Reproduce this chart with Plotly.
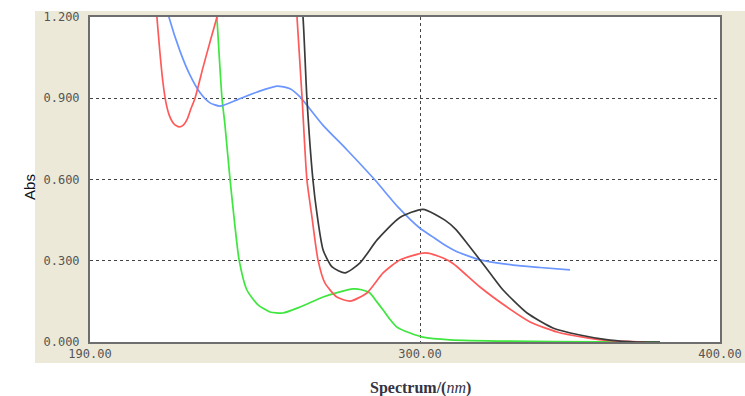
import plotly.graph_objects as go

# Wavelength (nm) / absorbance readings per curve
red_x = [210, 212.3, 213.3, 214.3, 215.3, 216.5, 218, 219.7, 221.2, 222.5, 223.6, 225, 227.7, 230,
         232.3, 234, 238, 254, 257.5,
         259, 260.7, 262.3, 264, 266, 268.3, 272.3, 276.7, 282.3, 287.7, 293.3, 301.7, 307.7, 311, 315.7,
         320, 329, 336.7, 345.7, 354.3, 363.3, 375]
red_y = [1.5, 1.2, 1.07, 0.96, 0.885, 0.835, 0.805, 0.794, 0.802, 0.825, 0.86, 0.9, 1.015, 1.108,
         1.2, 1.3, 1.5, 1.5, 1.45,
         1.2, 0.9, 0.6, 0.46, 0.303, 0.218, 0.166, 0.151, 0.181, 0.255, 0.303, 0.329, 0.31, 0.29, 0.245,
         0.203, 0.129, 0.074, 0.037, 0.018, 0.005, 0.0]

black_x = [258.5, 261, 262.3, 264.3, 265.7, 267.7, 270.7, 275, 280, 285.7, 293.3, 301, 308.3, 312, 316,
           320, 324, 327.7, 335.7, 344.3, 353.3, 363.3, 372.3, 380]
black_y = [1.5, 1.2, 0.9, 0.6, 0.47, 0.34, 0.277, 0.255, 0.292, 0.377, 0.46, 0.49, 0.45, 0.415, 0.36,
           0.303, 0.245, 0.192, 0.107, 0.052, 0.026, 0.007, 0.0, 0.0]

blue_x = [213, 216.3, 220, 223.3, 226.7, 230, 233.3, 239, 245.7, 252.3, 256.7, 260, 267.7, 275.7, 285,
          292.7, 300, 304, 308, 312, 316, 320, 331, 340, 350]
blue_y = [1.35, 1.2, 1.074, 0.986, 0.92, 0.883, 0.871, 0.894, 0.923, 0.945, 0.935, 0.905, 0.8, 0.709, 0.598,
          0.498, 0.42, 0.39, 0.36, 0.335, 0.318, 0.303, 0.284, 0.275, 0.266]

green_x = [231, 232.3, 234, 235, 236.7, 238.3, 239.7, 242.3, 246, 250, 254.3, 260, 267.7, 273.3, 277.7,
           280.5, 283.3, 285.5, 287.7, 290, 292.3, 296.7, 301, 310, 330, 360, 380]
green_y = [1.45, 1.2, 0.9, 0.8, 0.598, 0.43, 0.303, 0.192, 0.137, 0.111, 0.107, 0.129, 0.166, 0.185, 0.196,
           0.193, 0.181, 0.15, 0.118, 0.083, 0.055, 0.033, 0.018, 0.008, 0.003, 0.001, 0.0]

x_ticks = [190, 300, 400]
x_tick_text = ["190.00", "300.00", "400.00"]
y_ticks = [0, 0.3, 0.6, 0.9, 1.2]
y_tick_text = ["0.000", "0.300", "0.600", "0.900", "1.200"]

fig = go.Figure()
for xs, ys, col in [(green_x, green_y, "#3ee63e"), (blue_x, blue_y, "#6b95ff"),
                    (red_x, red_y, "#ff5a5a"), (black_x, black_y, "#3a3a3a")]:
    fig.add_trace(go.Scatter(x=xs, y=ys, mode="lines",
                             line=dict(color=col, width=1.7, shape="spline", smoothing=0.6),
                             showlegend=False, hoverinfo="skip"))

# beige panel behind the plot, white plot area on it
fig.add_shape(type="rect", xref="paper", yref="paper", x0=-0.0873, x1=1.04, y0=-0.0646, y1=1.0185,
              fillcolor="#ECE9D8", line=dict(width=0), layer="below")
fig.add_shape(type="rect", xref="paper", yref="paper", x0=0, x1=1, y0=0, y1=1,
              fillcolor="white", line=dict(width=0), layer="below")

tick_font = dict(family="DejaVu Sans Mono, Liberation Mono, monospace", size=12, color="#555555")
fig.update_layout(
    width=745, height=396,
    margin=dict(l=90, r=25, t=17, b=54),
    paper_bgcolor="white", plot_bgcolor="white",
    xaxis=dict(range=[190, 400], tickvals=x_ticks, ticktext=x_tick_text, tickfont=tick_font,
               showgrid=True, gridcolor="#444444", griddash="3px,3px", gridwidth=1,
               showline=True, linecolor="#6e6e6e", linewidth=2, mirror=True,
               ticks="", zeroline=False, automargin=False),
    yaxis=dict(range=[0, 1.2], tickvals=y_ticks, ticktext=y_tick_text, tickfont=tick_font,
               showgrid=True, gridcolor="#444444", griddash="3px,3px", gridwidth=1,
               showline=True, linecolor="#6e6e6e", linewidth=2, mirror=True,
               ticks="", zeroline=False, ticklabelstandoff=6, automargin=False),
    annotations=[
        dict(text="Abs", xref="paper", yref="paper", x=-0.112, y=0.477, textangle=-90, showarrow=False,
             font=dict(family="Liberation Sans, Arial", size=15, color="#111111")),
        dict(text="<b>Spectrum/(</b><i>nm</i><b>)</b>", xref="paper", yref="paper", x=0.524, y=-0.142,
             showarrow=False, yanchor="middle",
             font=dict(family="Liberation Serif, serif", size=16, color="#333344")),
    ],
)

fig.write_html("out.html", config={"displayModeBar": False},
               post_script="document.body.style.margin='0';")
